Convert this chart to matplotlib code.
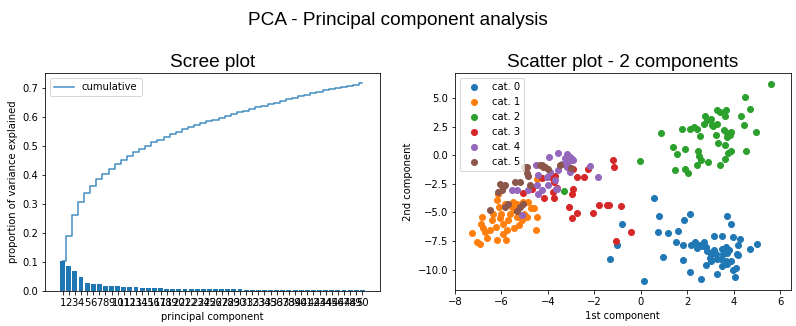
import matplotlib

matplotlib.use("Agg")
import matplotlib.pyplot as plt

# explained variance ratio for the 50 principal components
explained_ratio = [
    0.104, 0.087, 0.070, 0.048, 0.029, 0.024, 0.024, 0.019, 0.017, 0.016,
    0.015, 0.013, 0.013, 0.012, 0.011, 0.011, 0.010, 0.009, 0.009, 0.009,
    0.009, 0.008, 0.0063, 0.0063, 0.0063, 0.0063, 0.0063, 0.0063, 0.0063, 0.0063,
    0.0055, 0.0055, 0.0055, 0.0055, 0.0055, 0.0055, 0.0055, 0.0055, 0.0055, 0.0055,
    0.0055, 0.0055, 0.0055, 0.004, 0.004, 0.004, 0.004, 0.004, 0.004, 0.004,
]
component_ids = list(range(1, 51))

# 2-component projection, one pair of lists per category
cat0_x = [0.59, 0.80, 2.12, 1.88, -0.79, 3.73, 3.90, 0.76, 1.19, 1.62, 3.17, 3.52, 3.99, 4.29, 5.02, 4.72,
          1.52, 1.81, -1.04, -1.31, 0.97, 0.13, 1.81, 2.12, 2.61, 2.15, 2.34, 2.53, 2.73, 2.81, 2.44, 2.62,
          2.87, 3.03, 3.17, 3.23, 2.98, 3.30, 3.49, 3.67, 3.82, 3.70, 3.53, 3.45, 3.67, 3.87, 4.15, 4.21,
          2.81, 3.03, 3.30, 3.49, 3.70, 3.96, 4.10, 4.06, 4.21]
cat0_y = [-3.75, -5.33, -5.10, -5.62, -5.97, -5.33, -5.97, -6.67, -6.76, -6.59, -7.02, -7.10, -7.19, -7.34,
          -7.72, -8.24, -7.63, -7.81, -7.87, -9.04, -8.86, -10.96, -9.18, -10.22, -10.86, -7.86, -7.63, -7.81,
          -7.63, -8.01, -8.07, -7.95, -8.36, -8.60, -8.25, -8.66, -8.98, -9.07, -8.16, -8.01, -8.25, -8.54,
          -8.60, -9.04, -9.24, -9.24, -8.60, -7.89, -9.62, -9.24, -10.43, -9.70, -9.53, -10.0, -9.82, -10.69, -8.74]
cat1_x = [-7.28, -6.92, -6.85, -6.89, -6.61, -6.71, -6.49, -6.42, -6.21, -6.23, -6.06, -6.13, -6.21, -6.09,
          -6.03, -5.92, -5.95, -5.80, -5.77, -5.70, -5.63, -5.56, -5.49, -5.34, -5.42, -5.31, -5.46, -5.23,
          -5.13, -5.03, -4.91, -4.74, -4.60, -4.48, -4.52, -5.06, -4.84, -5.85, -6.38, -6.78, -7.04, -4.45]
cat1_y = [-6.76, -7.78, -5.39, -5.97, -7.28, -6.70, -6.50, -5.68, -7.37, -6.26, -5.53, -3.35, -3.93, -4.51,
          -5.10, -5.97, -6.85, -7.43, -6.56, -5.68, -5.10, -4.51, -4.07, -4.22, -4.80, -5.39, -6.32, -6.12,
          -5.68, -5.10, -5.39, -4.57, -4.57, -5.39, -6.50, -4.07, -4.07, -4.22, -5.10, -6.32, -7.58, -2.10]
cat2_x = [5.63, 4.51, 4.72, 4.31, 4.46, 4.98, 4.55, 0.87, -0.02, 1.79, 2.12, 2.31, 2.41, 2.57, 2.77, 2.87,
          2.73, 3.03, 3.07, 3.30, 3.42, 3.66, 3.61, 3.30, 3.13, 3.59, 3.73, 3.84, 3.70, 3.91, 3.25, 3.34,
          3.65, 3.88, 3.78, 3.61, 3.42, 1.41, 1.55, 1.92, 2.45, 2.53, 2.58, 2.41, 2.91, 1.49, 1.91, 2.05, -3.30]
cat2_y = [6.20, 5.06, 4.01, 3.48, 2.69, 2.08, 0.42, 1.99, -0.54, 2.29, 2.29, 2.49, 2.29, 1.73, 3.45, 3.07,
          2.78, 3.22, 2.69, 3.95, 3.75, 3.98, 3.45, 2.78, 2.58, 2.20, 1.99, 1.82, 1.61, 2.00, 1.82, 1.12,
          0.86, 0.42, 0.24, -0.34, -0.87, 0.71, 0.13, 0.51, 0.42, -0.08, -0.43, -0.87, -0.63, -1.33, -1.16,
          -1.54, -3.10]
cat3_x = [-1.18, -1.14, -2.26, -2.44, -2.76, -2.93, -3.12, -2.90, -3.71, -3.74, -3.88, -4.27, -4.17, -3.72,
          -3.76, -5.06, -4.70, -3.07, -2.76, -2.96, -2.04, -1.80, -1.47, -1.35, -0.83, -0.43, -1.06, -2.94, -3.62]
cat3_y = [-0.43, -1.01, -1.24, -1.94, -1.89, -1.24, -1.01, -2.91, -1.83, -2.32, -1.94, -2.03, -3.72, -3.78,
          -3.20, -3.26, -2.91, -4.51, -5.04, -5.45, -5.01, -4.31, -4.37, -4.37, -4.45, -6.67, -7.49, -3.35, -2.82]
cat4_x = [-3.94, -3.55, -3.19, -3.05, -3.26, -3.12, -2.90, -3.41, -3.16, -3.05, -2.18, -1.82, -4.51, -4.41,
          -4.05, -3.91, -3.55, -3.69, -3.98, -3.65, -4.26, -4.41, -4.84, -5.56, -5.35, -5.13, -4.48, -3.62, -2.95]
cat4_y = [-0.14, 0.24, 0.15, -0.14, -0.28, -0.58, -0.43, -0.78, -1.01, -1.45, -0.96, -1.89, -0.87, -1.74,
          -1.89, -1.45, -1.25, -2.18, -2.62, -2.91, -3.06, -3.35, -3.00, -3.06, -3.00, -5.25, -2.62, -2.91, -0.30]
cat5_x = [-4.91, -4.26, -4.12, -3.98, -3.48, -3.02, -4.91, -4.84, -5.20, -5.41, -4.77, -6.06, -5.92, -5.99,
          -6.13, -5.85, -5.70, -5.85, -6.49, -5.06, -5.20, -5.31, -4.34, -4.19, -5.03]
cat5_y = [-1.01, -0.87, -1.01, -1.16, -0.87, -1.07, -1.59, -1.83, -2.33, -2.33, -2.62, -2.47, -2.76, -3.06,
          -3.20, -2.62, -4.22, -4.51, -4.75, -4.22, -4.51, -4.86, -0.87, -1.01, -1.01]

categories = ["cat. 0", "cat. 1", "cat. 2", "cat. 3", "cat. 4", "cat. 5"]
xs = [cat0_x, cat1_x, cat2_x, cat3_x, cat4_x, cat5_x]
ys = [cat0_y, cat1_y, cat2_y, cat3_y, cat4_y, cat5_y]

TITLE_FONT = "Liberation Sans"


def _scree(ax):
    cumulative = []
    total = 0.0
    for value in explained_ratio:
        total += value
        cumulative.append(total)
    ax.bar(component_ids, explained_ratio, color="#1f77b4")
    ax.step(component_ids, cumulative, where="mid", color="#1f77b4", alpha=0.85, label="cumulative")
    ax.set_xticks(component_ids)
    ax.set_xticklabels([str(c) for c in component_ids])
    ax.set_xlabel("principal component")
    ax.set_ylabel("proportion of variance explained")
    ax.set_title("Scree plot", fontsize=19, fontname=TITLE_FONT)
    ax.legend(loc="upper left")


def _scatter(ax):
    for label, x, y in zip(categories, xs, ys):
        ax.scatter(x, y, label=label)
    ax.set_xlim(-8.0, 6.46)
    ax.set_ylim(-11.8, 7.2)
    ax.set_xlabel("1st component")
    ax.set_ylabel("2nd component")
    ax.set_title("Scatter plot - 2 components", fontsize=19, fontname=TITLE_FONT)
    ax.legend(loc="upper left")


fig = plt.figure(figsize=(796 / 72, 326 / 72), dpi=72)
ax_left = fig.add_axes([0.0565, 0.107, 0.4209, 0.669])
ax_right = fig.add_axes([0.5716, 0.110, 0.4217, 0.666])
_scree(ax_left)
_scatter(ax_right)
fig.suptitle("PCA - Principal component analysis", fontsize=19, fontname=TITLE_FONT, y=0.938, va="center")
fig.savefig("out.png", dpi=72)
plt.close(fig)
